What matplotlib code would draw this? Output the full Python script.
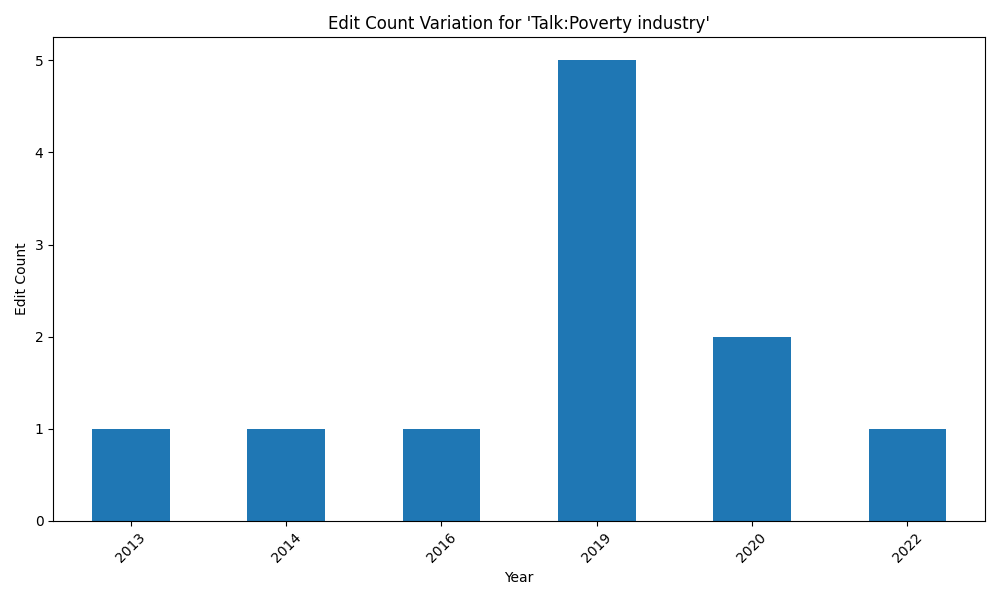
import matplotlib
matplotlib.use("Agg")
import matplotlib.pyplot as plt
import pandas as pd

years = ["2013", "2014", "2016", "2019", "2020", "2022"]
edit_counts = [1, 1, 1, 5, 2, 1]

s = pd.Series(edit_counts, index=years)

plt.figure(figsize=(10, 6))
s.plot(kind="bar", color="#1f77b4")
plt.title("Edit Count Variation for 'Talk:Poverty industry'")
plt.xlabel("Year")
plt.ylabel("Edit Count")
plt.xticks(rotation=45)
plt.tight_layout()
plt.savefig("out.png", dpi=100)
